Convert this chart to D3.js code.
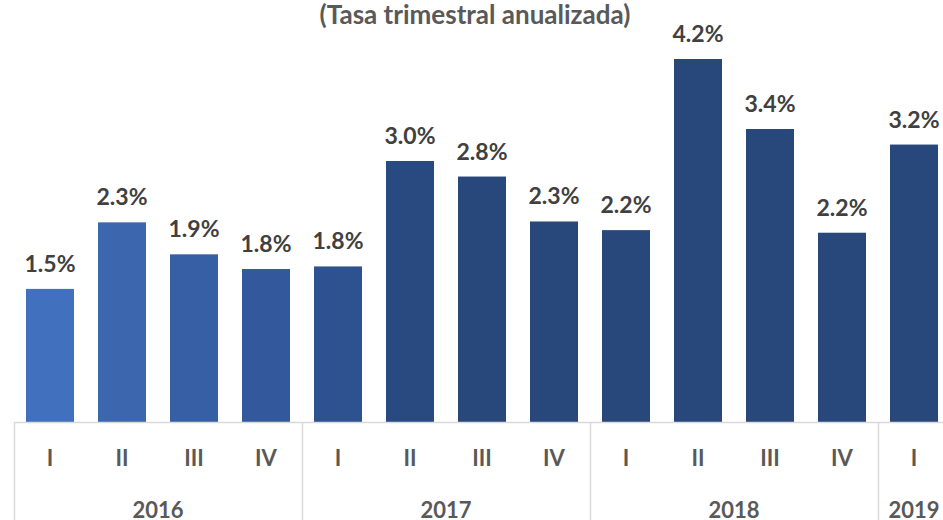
<!DOCTYPE html>
<html>
<head>
<meta charset="utf-8">
<script src="https://cdn.jsdelivr.net/npm/d3@7"></script>
<style>
  body { margin: 0; background: #fff; }
  svg { display: block; font-family: Lato, "Open Sans", sans-serif; }
</style>
</head>
<body>
<svg id="chart" width="943" height="520"></svg>
<script>
// data
const quarters = ["I", "II", "III", "IV", "I", "II", "III", "IV", "I", "II", "III", "IV", "I"];
const years = ["2016", "2017", "2018", "2019"];
const yearCounts = [4, 4, 4, 1];
const rates = [1.54, 2.31, 1.94, 1.77, 1.80, 3.02, 2.84, 2.32, 2.22, 4.20, 3.39, 2.19, 3.21];
const barColors = ["#4070BE", "#3C66AE", "#375FA6", "#33589B", "#2E5190", "#294A80",
    "#28477B", "#28477B", "#28477B", "#28477B", "#28477B", "#28477B", "#28477B"];
const title = "(Tasa trimestral anualizada)";

const svg = d3.select('#chart');
const width = +svg.attr('width');
const baseY = 422;

const x = d3.scaleBand()
    .domain(d3.range(rates.length))
    .range([14, 14 + 72 * rates.length])
    .paddingInner(1 / 3)
    .paddingOuter(1 / 6);

const y = d3.scaleLinear()
    .domain([0, 4.2])
    .range([baseY, 59]);

const fmt = d3.format(".1f");

svg.append("text")
    .attr("x", 475)
    .attr("y", 24)
    .attr("text-anchor", "middle")
    .attr("font-size", 26)
    .attr("font-weight", "bold")
    .attr("fill", "#595959")
    .text(title);

// bars
svg.selectAll(".bar")
    .data(rates)
    .enter().append("rect")
    .attr("class", "bar")
    .attr("x", (d, i) => x(i))
    .attr("y", d => y(d))
    .attr("width", x.bandwidth())
    .attr("height", d => baseY - y(d))
    .attr("fill", (d, i) => barColors[i]);

// value labels
svg.selectAll(".lbl")
    .data(rates)
    .enter().append("text")
    .attr("class", "lbl")
    .attr("x", (d, i) => x(i) + x.bandwidth() / 2)
    .attr("y", d => y(d) - 17)
    .attr("text-anchor", "middle")
    .attr("font-size", 23)
    .attr("font-weight", "bold")
    .attr("fill", "#404040")
    .text(d => fmt(d) + "%");

// category axis: line, quarter labels, year groups
const axisColor = "#D9D9D9";
svg.append("line")
    .attr("x1", x.range()[0]).attr("x2", width)
    .attr("y1", baseY + 0.5).attr("y2", baseY + 0.5)
    .attr("stroke", axisColor).attr("stroke-width", 1.5);

svg.selectAll(".q")
    .data(quarters)
    .enter().append("text")
    .attr("class", "q")
    .attr("x", (d, i) => x(i) + x.bandwidth() / 2)
    .attr("y", 466)
    .attr("text-anchor", "middle")
    .attr("font-size", 22)
    .attr("font-weight", "bold")
    .attr("fill", "#595959")
    .text(d => d);

const step = x.step();
const starts = yearCounts.map((c, i) => d3.sum(yearCounts.slice(0, i)));
svg.selectAll(".div")
    .data(starts)
    .enter().append("line")
    .attr("class", "div")
    .attr("x1", d => x.range()[0] + d * step + 0.5)
    .attr("x2", d => x.range()[0] + d * step + 0.5)
    .attr("y1", baseY)
    .attr("y2", 520)
    .attr("stroke", axisColor).attr("stroke-width", 1.5);

svg.selectAll(".yr")
    .data(years)
    .enter().append("text")
    .attr("class", "yr")
    .attr("x", (d, i) => x.range()[0] + (starts[i] + yearCounts[i] / 2) * step)
    .attr("y", 518)
    .attr("text-anchor", "middle")
    .attr("font-size", 22)
    .attr("font-weight", "bold")
    .attr("fill", "#595959")
    .text(d => d);
</script>
</body>
</html>
